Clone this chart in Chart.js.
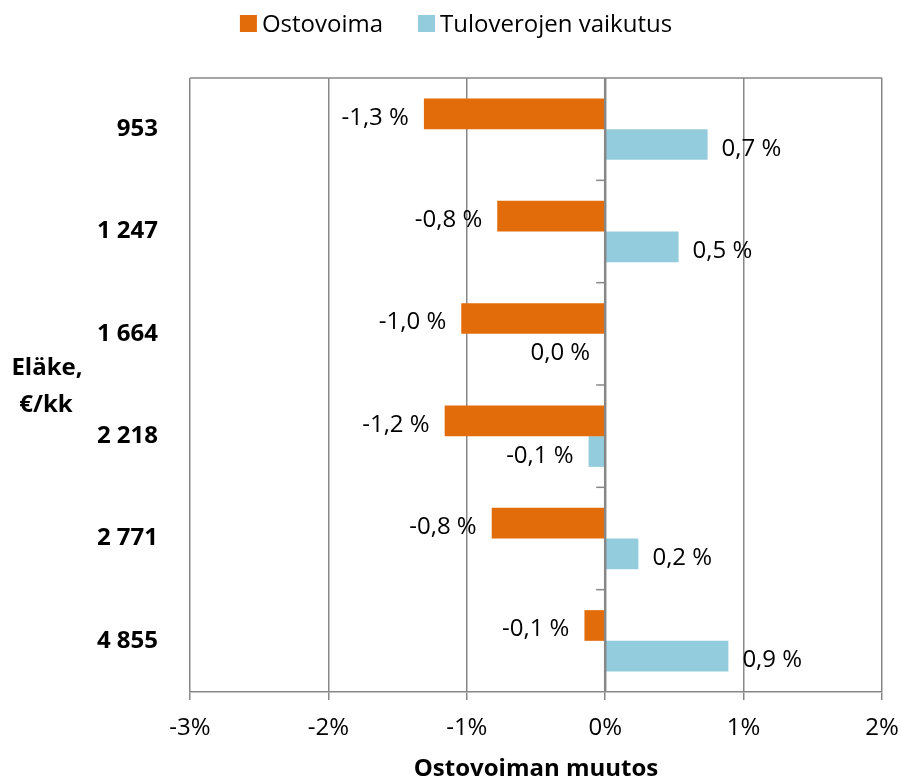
<!DOCTYPE html>
<html>
<head>
<meta charset="utf-8">
<script src="https://cdn.jsdelivr.net/npm/chart.js@4"></script>
<style>
  body { margin: 0; background: #fff; }
  canvas { display: block; }
</style>
</head>
<body>
<canvas id="chart" width="901" height="776"></canvas>
<script>
// Eläke €/kk
const categories = ['953', '1 247', '1 664', '2 218', '2 771', '4 855'];
const ostovoima = [-1.31, -0.78, -1.04, -1.16, -0.82, -0.15];
const tuloverot = [0.74, 0.53, 0.0, -0.12, 0.24, 0.89];
const xTicks = [-3, -2, -1, 0, 1, 2];

const FONT = "'Open Sans', sans-serif";
const GRID = '#878787';
const ORANGE = '#E36C0A';
const BLUE = '#93CDDD';

function pct(v) {
  return v.toFixed(1).replace('.', ',').replace('-0,0', '0,0') + ' %';
}

const extras = {
  id: 'extras',
  beforeDatasetsDraw(chart) {
    const { ctx, chartArea } = chart;
    ctx.save();
    ctx.strokeStyle = GRID;
    ctx.lineWidth = 1.5;
    ctx.beginPath();
    ctx.moveTo(chartArea.left, chartArea.top);
    ctx.lineTo(chartArea.right, chartArea.top);
    ctx.stroke();
    ctx.restore();
  },
  afterDatasetsDraw(chart) {
    const { ctx, chartArea } = chart;
    const x0 = chart.scales.x.getPixelForValue(0);
    ctx.save();
    // zero axis + category tick marks
    ctx.strokeStyle = GRID;
    ctx.lineWidth = 2.5;
    ctx.beginPath();
    ctx.moveTo(x0, chartArea.top);
    ctx.lineTo(x0, chartArea.bottom);
    ctx.stroke();
    ctx.lineWidth = 1.5;
    const step = (chartArea.bottom - chartArea.top) / categories.length;
    for (let i = 1; i < categories.length; i++) {
      const ty = chartArea.top + i * step;
      ctx.beginPath();
      ctx.moveTo(x0 - 9, ty);
      ctx.lineTo(x0, ty);
      ctx.stroke();
    }

    // data labels
    ctx.fillStyle = '#000';
    ctx.font = '24px ' + FONT;
    ctx.textBaseline = 'alphabetic';
    chart.data.datasets.forEach((ds, di) => {
      chart.getDatasetMeta(di).data.forEach((bar, i) => {
        const v = ds.data[i];
        if (v <= 0) {
          ctx.textAlign = 'right';
          ctx.fillText(pct(v), Math.min(bar.x, bar.base) - 15, bar.y + 11);
        } else {
          ctx.textAlign = 'left';
          ctx.fillText(pct(v), bar.x + 14, bar.y + 11);
        }
      });
    });

    // legend
    ctx.font = '24px ' + FONT;
    ctx.textAlign = 'left';
    const items = chart.data.datasets.map(d => ({ text: d.label, color: d.backgroundColor }));
    const widths = items.map(it => 17 + 5 + ctx.measureText(it.text).width);
    const total = widths.reduce((a, b) => a + b, 0) + 35 * (items.length - 1);
    let lx = 456 - total / 2;
    items.forEach((it, i) => {
      ctx.fillStyle = it.color;
      ctx.fillRect(lx, 15, 17, 17);
      ctx.fillStyle = '#000';
      ctx.fillText(it.text, lx + 22, 32);
      lx += widths[i] + 35;
    });

    // y axis title
    ctx.font = 'bold 24px ' + FONT;
    ctx.textAlign = 'center';
    ctx.fillText('Eläke,', 47, 375);
    ctx.fillText('€/kk', 46, 412);
    ctx.restore();
  }
};

new Chart(document.getElementById('chart'), {
  type: 'bar',
  data: {
    labels: categories,
    datasets: [
      { label: 'Ostovoima', data: ostovoima, backgroundColor: ORANGE },
      { label: 'Tuloverojen vaikutus', data: tuloverot, backgroundColor: BLUE }
    ]
  },
  options: {
    indexAxis: 'y',
    responsive: false,
    animation: false,
    devicePixelRatio: 1,
    categoryPercentage: 0.6,
    barPercentage: 1.0,
    layout: { padding: { top: 78, right: 19, bottom: 0, left: 0 } },
    plugins: {
      legend: { display: false },
      tooltip: { enabled: false }
    },
    scales: {
      x: {
        min: xTicks[0],
        max: xTicks[xTicks.length - 1],
        afterBuildTicks(scale) {
          scale.ticks = xTicks.map(v => ({ value: v }));
        },
        afterFit(scale) {
          scale.height = 84;
          scale.paddingLeft = 0;
          scale.paddingRight = 0;
        },
        grid: { color: GRID, lineWidth: 1.5, drawTicks: true, tickLength: 8, tickColor: GRID },
        border: { color: GRID, width: 1.5 },
        ticks: {
          color: '#000',
          font: { family: FONT, size: 24 },
          padding: 14,
          maxRotation: 0,
          callback: v => v + '%'
        },
        title: {
          display: true,
          text: 'Ostovoiman muutos',
          color: '#000',
          font: { family: FONT, size: 24, weight: 'bold' },
          padding: { top: 0, bottom: -8 }
        }
      },
      y: {
        afterFit(scale) { scale.width = 190; },
        grid: { display: false, drawTicks: false },
        border: { display: false },
        ticks: {
          color: '#000',
          font: { family: FONT, size: 24, weight: 'bold' },
          padding: 32
        }
      }
    }
  },
  plugins: [extras]
});
</script>
</body>
</html>
